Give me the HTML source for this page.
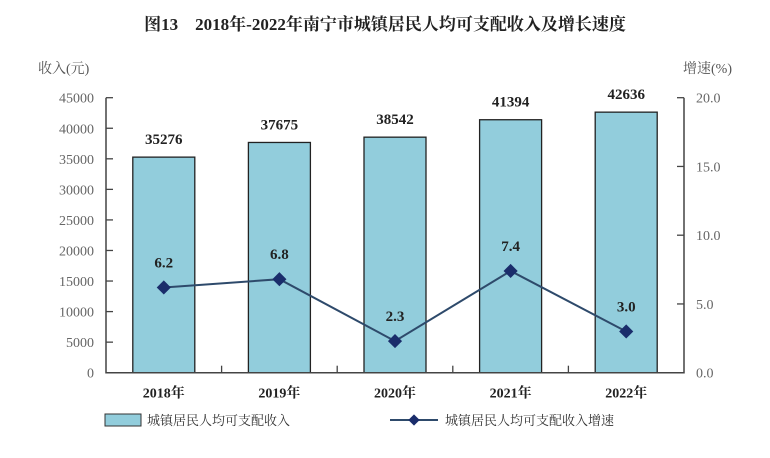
<!DOCTYPE html>
<html><head><meta charset="utf-8"><style>
body{margin:0;background:#fff;width:770px;height:453px;overflow:hidden}
svg text{font-family:"Liberation Serif","Noto Serif CJK SC",serif}
</style></head><body>
<svg id="c" width="770" height="453">
<text x="385" y="30" text-anchor="middle" font-size="17" font-weight="bold" fill="#222">图13　2018年-2022年南宁市城镇居民人均可支配收入及增长速度</text>
<text x="38" y="73" font-size="14" fill="#555">收入(元)</text>
<text x="683" y="73" font-size="14" fill="#555">增速(%)</text>
<g id="g"></g>
<rect x="105" y="414" width="36" height="12" fill="#92cddc" stroke="#333"/>
<text x="147" y="425" font-size="13" fill="#333">城镇居民人均可支配收入</text>
<line x1="390" y1="420" x2="438" y2="420" stroke="#2e4a6b" stroke-width="2"/>
<rect x="410" y="416" width="8" height="8" fill="#1a2d6b" transform="rotate(45 414 420)"/>
<text x="445" y="425" font-size="13" fill="#333">城镇居民人均可支配收入增速</text>
</svg>
<script>
const categories=["2018年","2019年","2020年","2021年","2022年"];
const incomes=[35276,37675,38542,41394,42636];
const growth=[6.2,6.8,2.3,7.4,3.0];
const growthLabels=["6.2","6.8","2.3","7.4","3.0"];
const leftTicks=[0,5000,10000,15000,20000,25000,30000,35000,40000,45000];
const rightTicks=[0,5,10,15,20];
const rightTickLabels=["0.0","5.0","10.0","15.0","20.0"];
const NS="http://www.w3.org/2000/svg",g=document.getElementById('g');
const L=106,R=684,T=97.7,B=372.7;
const yL=v=>B-(v/45000)*(B-T), yR=v=>B-(v/20)*(B-T);
const bw=(R-L)/categories.length, xC=i=>L+bw*(i+0.5);
function el(t,a,txt){const e=document.createElementNS(NS,t);for(const k in a)e.setAttribute(k,a[k]);if(txt!=null)e.textContent=txt;g.appendChild(e);return e;}
incomes.forEach((v,i)=>{
 const b=el('rect',{x:xC(i)-31,y:yL(v),width:62,height:B-yL(v),fill:'#92cddc',stroke:'#222','stroke-width':1.3});
 
 
 const t=el('text',{x:xC(i),y:yL(v)-13,'text-anchor':'middle','font-size':15,'font-weight':'bold',fill:'#222','font-family':'Liberation Sans'},String(v));
 
 
 const c=el('text',{x:xC(i),y:B+25,'text-anchor':'middle','font-size':14,'font-weight':'bold',fill:'#222'},categories[i]);
 
 
});
const ax=el('path',{d:`M${L} ${T}V${B}H${R}V${T}`,fill:'none',stroke:'#444','stroke-width':1.5});


for(let i=1;i<categories.length;i++){el('line',{x1:L+bw*i,x2:L+bw*i,y1:B,y2:B-7,stroke:'#444','stroke-width':1.3});}
leftTicks.forEach(v=>{el('line',{x1:L,x2:L+7,y1:yL(v),y2:yL(v),stroke:'#444','stroke-width':1.3});
 const t=el('text',{x:L-12,y:yL(v)+5,'text-anchor':'end','font-size':14,fill:'#666'},String(v));
 
 });
rightTicks.forEach((v,i)=>{el('line',{x1:R,x2:R-7,y1:yR(v),y2:yR(v),stroke:'#444','stroke-width':1.3});
 const t=el('text',{x:R+12,y:yR(v)+5,'font-size':14,fill:'#666'},rightTickLabels[i]);
 
 });
const ln=el('polyline',{points:growth.map((v,i)=>xC(i)+','+yR(v)).join(' '),fill:'none',stroke:'#2e4a6b','stroke-width':2});


growth.forEach((v,i)=>{
 const m=el('rect',{x:xC(i)-5,y:yR(v)-5,width:10,height:10,fill:'#1a2d6b',transform:`rotate(45 ${xC(i)} ${yR(v)})`});
 
 
 const t=el('text',{x:xC(i),y:yR(v)-20,'text-anchor':'middle','font-size':15,'font-weight':'bold',fill:'#222','font-family':'Liberation Sans'},growthLabels[i]);
 
 
});
</script>
</body></html>
